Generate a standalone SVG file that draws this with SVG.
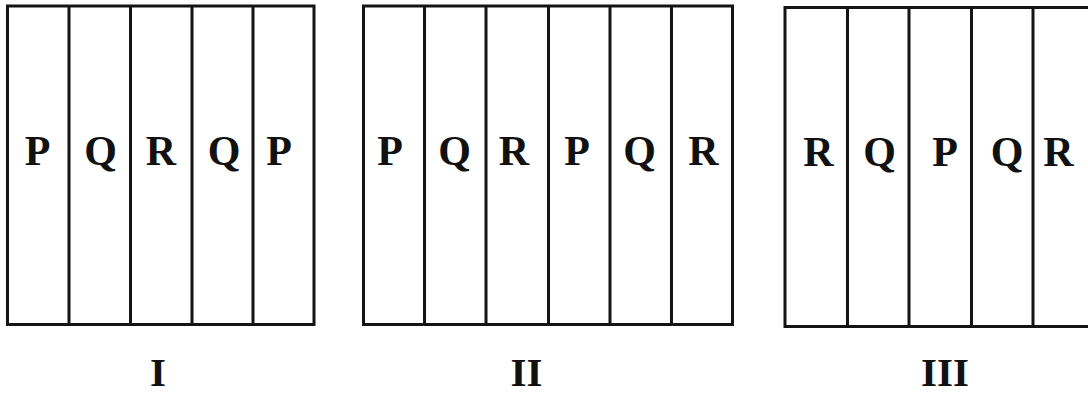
<svg xmlns="http://www.w3.org/2000/svg" width="1088" height="395" viewBox="0 0 1088 395">
<style>
.box{fill:#fff;stroke:#141414;stroke-width:3}
.div{stroke:#141414;stroke-width:3}
text{font-family:'Liberation Serif',serif;font-weight:700;fill:#111;text-anchor:middle}
.lt{font-size:42px}
.lab{font-size:41px}
</style>
<rect width="1088" height="395" fill="#fff"/>
<g id="panel-I">
<rect class="box" x="7.5" y="6" width="306.5" height="318.5"/>
<line class="div" x1="69" y1="6" x2="69" y2="324.5"/>
<line class="div" x1="130.5" y1="6" x2="130.5" y2="324.5"/>
<line class="div" x1="192" y1="6" x2="192" y2="324.5"/>
<line class="div" x1="253" y1="6" x2="253" y2="324.5"/>
<text class="lt" x="37.5" y="165">P</text>
<text class="lt" x="100.5" y="165">Q</text>
<text class="lt" x="161" y="165">R</text>
<text class="lt" x="224" y="165">Q</text>
<text class="lt" x="279" y="165">P</text>
<text class="lab" x="158" y="386">I</text>
</g>
<g id="panel-II">
<rect class="box" x="363.5" y="6" width="369" height="318.5"/>
<line class="div" x1="424.5" y1="6" x2="424.5" y2="324.5"/>
<line class="div" x1="486" y1="6" x2="486" y2="324.5"/>
<line class="div" x1="548.5" y1="6" x2="548.5" y2="324.5"/>
<line class="div" x1="610" y1="6" x2="610" y2="324.5"/>
<line class="div" x1="671.5" y1="6" x2="671.5" y2="324.5"/>
<text class="lt" x="390" y="165">P</text>
<text class="lt" x="454.5" y="165">Q</text>
<text class="lt" x="514" y="165">R</text>
<text class="lt" x="577" y="165">P</text>
<text class="lt" x="639.5" y="165">Q</text>
<text class="lt" x="703.5" y="165">R</text>
<text class="lab" x="526.5" y="386">II</text>
</g>
<g id="panel-III">
<rect class="box" x="785" y="7.5" width="312" height="319"/>
<line class="div" x1="847.5" y1="7.5" x2="847.5" y2="326.5"/>
<line class="div" x1="909" y1="7.5" x2="909" y2="326.5"/>
<line class="div" x1="971.5" y1="7.5" x2="971.5" y2="326.5"/>
<line class="div" x1="1033" y1="7.5" x2="1033" y2="326.5"/>
<text class="lt" x="818.5" y="166">R</text>
<text class="lt" x="879.5" y="166">Q</text>
<text class="lt" x="945" y="166">P</text>
<text class="lt" x="1007" y="166">Q</text>
<text class="lt" x="1058.5" y="166">R</text>
<text class="lab" x="945" y="386">III</text>
</g>
<g id="connectors"/>
</svg>
